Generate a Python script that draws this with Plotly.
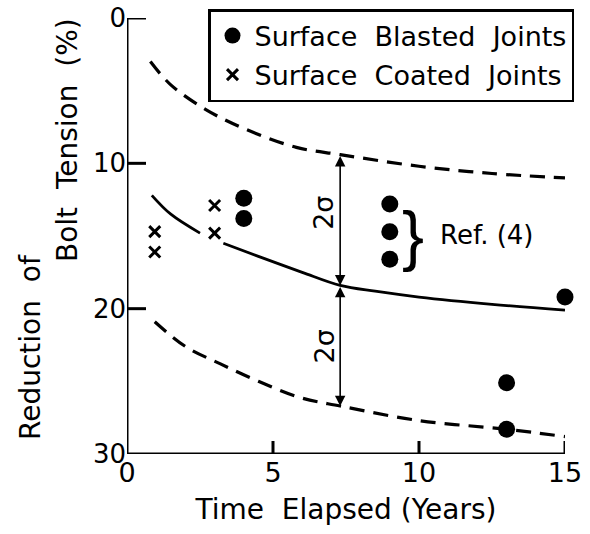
import plotly.graph_objects as go

# Data
blasted_x = [4, 4, 9, 9, 9, 15, 13, 13]
blasted_y = [12.4, 13.8, 12.8, 14.7, 16.6, 19.2, 25.1, 28.3]

coated_x = [0.95, 0.95, 3.0, 3.0]
coated_y = [14.7, 16.1, 12.9, 14.8]

mean_x = [0.85, 1.5, 2.5, None, 3.3, 4.5, 6.0, 7.3, 8.5, 10, 12.5, 15]
mean_y = [12.2, 13.5, 14.8, None, 15.5, 16.4, 17.5, 18.4, 18.8, 19.2, 19.7, 20.1]

upper_x = [0.8, 1.5, 2.7, 4.0, 5.8, 7.3, 10, 12.5, 15]
upper_y = [3.0, 4.6, 6.3, 7.6, 8.9, 9.4, 10.2, 10.7, 11.0]

lower_x = [0.95, 2.0, 3.2, 4.5, 5.9, 7.3, 10, 13, 15]
lower_y = [20.9, 22.6, 23.8, 25.0, 26.1, 26.7, 27.7, 28.3, 28.8]

x_ticks = [0, 5, 10, 15]
y_ticks = [0, 10, 20, 30]

X_RANGE = [0, 15]
Y_RANGE = [30, 0]

arrow_x = 7.3
FONT = "DejaVu Sans"

W, H = 590, 534
ML, MT = 127, 18
W_plot, H_plot = 438, 436
MR = W - ML - W_plot
MB = H - MT - H_plot


def px_to_paper(px, py):
    return (px - ML) / W_plot, (H - MB - py) / H_plot


fig = go.Figure()

# axis frame (left + bottom) and inside ticks, built from ranges and tick lists
x_per_px = (X_RANGE[1] - X_RANGE[0]) / W_plot
y_per_px = (Y_RANGE[0] - Y_RANGE[1]) / H_plot
frame_x = [X_RANGE[0], X_RANGE[0], X_RANGE[1]]
frame_y = [Y_RANGE[1], Y_RANGE[0], Y_RANGE[0]]
for v in x_ticks[1:]:
    frame_x += [None, v, v]
    frame_y += [None, Y_RANGE[0], Y_RANGE[0] - 13 * y_per_px]
for v in y_ticks[:-1]:
    frame_x += [None, X_RANGE[0], X_RANGE[0] + 19 * x_per_px]
    frame_y += [None, v, v]
fig.add_trace(go.Scatter(x=frame_x, y=frame_y, mode="lines", showlegend=False,
                         hoverinfo="skip", connectgaps=False, cliponaxis=False,
                         line=dict(color="black", width=3)))

fig.add_trace(go.Scatter(x=upper_x, y=upper_y, mode="lines", showlegend=False,
                         line=dict(color="black", width=3.2, dash="15px,9px"),
                         line_shape="spline", cliponaxis=False))
fig.add_trace(go.Scatter(x=lower_x, y=lower_y, mode="lines", showlegend=False,
                         line=dict(color="black", width=3.2, dash="15px,9px"),
                         line_shape="spline", cliponaxis=False))
fig.add_trace(go.Scatter(x=mean_x, y=mean_y, mode="lines", showlegend=False,
                         line=dict(color="black", width=2.8),
                         line_shape="spline", connectgaps=False, cliponaxis=False))

fig.add_trace(go.Scatter(x=blasted_x, y=blasted_y, mode="markers",
                         name="Surface  Blasted  Joints", legendgroup="a",
                         marker=dict(symbol="circle", size=17, color="black"),
                         cliponaxis=False))
fig.add_trace(go.Scatter(x=coated_x, y=coated_y, mode="markers",
                         name="Surface  Coated  Joints", legendgroup="b",
                         marker=dict(symbol="x-thin", size=11, color="black",
                                     line=dict(width=3, color="black")),
                         cliponaxis=False))

# 2-sigma double arrows
for y0, y1 in [(upper_y[5], mean_y[7]), (mean_y[7], lower_y[5])]:
    fig.add_annotation(x=arrow_x, y=y1, ax=arrow_x, ay=y0, xref="x", yref="y",
                       axref="x", ayref="y", text="", showarrow=True,
                       arrowhead=2, arrowside="end+start", arrowsize=1.3,
                       arrowwidth=1.6, arrowcolor="black")

for ylab in [13.4, 22.6]:
    fig.add_annotation(x=6.75, y=ylab, xref="x", yref="y", text="2σ",
                       showarrow=False, textangle=-90,
                       font=dict(family=FONT, size=27, color="black"))

fig.add_annotation(x=9.8, y=14.9, xref="x", yref="y", text="}",
                   showarrow=False,
                   font=dict(family="Liberation Sans", size=66, color="black"))
fig.add_annotation(x=10.65, y=14.9, xref="x", yref="y", text="Ref. (4)",
                   showarrow=False, xanchor="left",
                   font=dict(family=FONT, size=26, color="black"))

# y-axis title (two lines, staggered)
for txt, px, py in [("Bolt  Tension  (%)", 67, 140), ("Reduction  of", 30, 347)]:
    ax_, ay_ = px_to_paper(px, py)
    fig.add_annotation(x=ax_, y=ay_, xref="paper", yref="paper", text=txt,
                       showarrow=False, textangle=-90, xanchor="center",
                       yanchor="middle",
                       font=dict(family=FONT, size=28, color="black"))

lx, ly = px_to_paper(208, 9)

fig.update_layout(
    template="simple_white",
    width=W, height=H,
    margin=dict(l=ML, r=MR, t=MT, b=MB, autoexpand=False),
    paper_bgcolor="white", plot_bgcolor="white",
    font=dict(family=FONT, size=26, color="black"),
    legend=dict(x=lx, y=ly, xanchor="left", yanchor="top",
                bordercolor="black", borderwidth=2.5, bgcolor="white",
                font=dict(family=FONT, size=27, color="black"),
                itemwidth=34, tracegroupgap=1),
    xaxis=dict(range=X_RANGE, tickvals=x_ticks, ticks="", showline=False,
               showgrid=False, zeroline=False, ticklabeloverflow="allow",
               tickfont=dict(size=27),
               title=dict(text="Time  Elapsed (Years)", font=dict(size=28), standoff=12)),
    yaxis=dict(range=Y_RANGE, tickvals=y_ticks, ticks="", showline=False,
               showgrid=False, zeroline=False, ticklabeloverflow="allow",
               tickfont=dict(size=26)),
)

fig.write_html("out.html", config={"displayModeBar": False},
               post_script="document.body.style.margin='0px';")
